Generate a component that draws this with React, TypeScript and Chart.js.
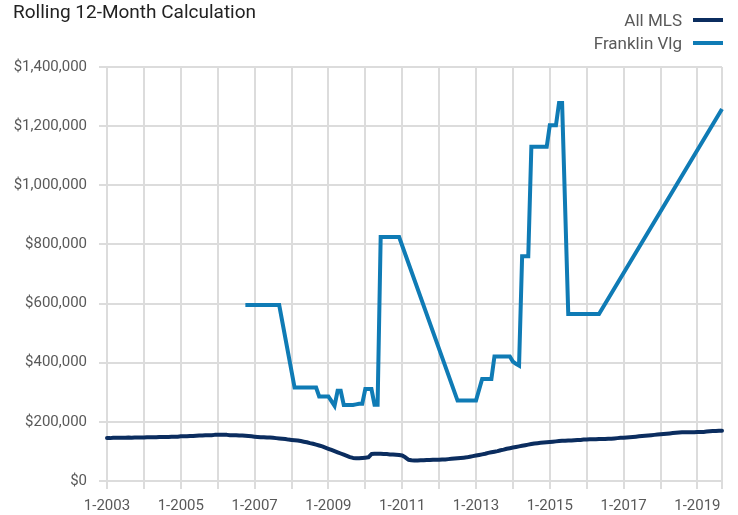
import React, { useEffect, useRef } from 'react';
import { Chart, registerables } from 'chart.js';

Chart.register(...registerables);

// Monthly categories: Jan 2003 .. Sep 2019
const START_YEAR = 2003;
const MONTH_COUNT = 201;
const monthLabels: string[] = [];
for (let i = 0; i < MONTH_COUNT; i++) {
  monthLabels.push(`${(i % 12) + 1}-${START_YEAR + Math.floor(i / 12)}`);
}

// Values in thousands of dollars
const allMlsK: number[] = [
  145, 145, 146, 146, 146, 146, 146, 147, 146, 147, 147, 147, // 2003
  147, 148, 148, 148, 148, 149, 149, 149, 149, 150, 150, 150, // 2004
  151, 151, 151, 152, 152, 153, 154, 154, 155, 155, 155, 156, // 2005
  156, 156, 156, 156, 155, 155, 155, 154, 154, 153, 152, 151, // 2006
  150, 149, 148, 148, 147, 147, 146, 145, 144, 143, 142, 140, // 2007
  139, 138, 137, 135, 133, 131, 128, 126, 123, 120, 117, 113, // 2008
  109, 105, 101, 97, 93, 89, 85, 81, 78, 77, 77, 78, // 2009
  79, 80, 91, 92, 92, 92, 91, 91, 90, 90, 89, 88, // 2010
  86, 80, 72, 70, 69, 69, 70, 70, 71, 71, 72, 72, // 2011
  72, 73, 73, 74, 75, 76, 77, 78, 79, 80, 82, 84, // 2012
  86, 88, 90, 92, 95, 97, 99, 101, 104, 106, 109, 111, // 2013
  113, 115, 117, 119, 121, 123, 125, 127, 128, 129, 130, 131, // 2014
  132, 133, 134, 135, 136, 136, 137, 137, 138, 139, 139, 140, // 2015
  140, 141, 141, 141, 142, 142, 142, 143, 143, 144, 145, 146, // 2016
  146, 147, 148, 149, 150, 151, 152, 153, 154, 155, 156, 157, // 2017
  158, 159, 160, 161, 162, 163, 164, 165, 165, 165, 165, 165, // 2018
  166, 166, 166, 167, 168, 169, 169, 170, 170, // 2019 (Jan-Sep)
];

const _ = null;
const franklinK: (number | null)[] = [
  _, _, _, _, _, _, _, _, _, _, _, _, // 2003
  _, _, _, _, _, _, _, _, _, _, _, _, // 2004
  _, _, _, _, _, _, _, _, _, _, _, _, // 2005
  _, _, _, _, _, _, _, _, _, 595, 595, 595, // 2006
  595, 595, 595, 595, 595, 595, 595, 595, 595, _, _, _, // 2007
  _, 316, 316, 316, 316, 316, 316, 316, 316, 286, 286, 286, // 2008
  286, 270, 254, 305, 305, 257, 257, 257, 257, 259, 261, 261, // 2009
  311, 311, 311, 258, 258, 825, 825, 825, 825, 825, 825, 825, // 2010
  _, _, _, _, _, _, _, _, _, _, _, _, // 2011
  _, _, _, _, _, _, 272, 272, 272, 272, 272, 272, // 2012
  272, _, 345, 345, 345, 345, 421, 421, 421, 421, 421, 421, // 2013
  404, 396, 390, 760, 760, 760, 1130, 1130, 1130, 1130, 1130, 1130, // 2014
  1203, 1203, 1203, 1278, 1278, _, 565, 565, 565, 565, 565, 565, // 2015
  565, 565, 565, 565, 565, _, _, _, _, _, _, _, // 2016
  _, _, _, _, _, _, _, _, _, _, _, _, // 2017
  _, _, _, _, _, _, _, _, _, _, _, _, // 2018
  _, _, _, _, _, _, _, _, 1258, // 2019 (Jan-Sep)
];

const yTicks = [0, 200000, 400000, 600000, 800000, 1000000, 1200000, 1400000];

const seriesNames = ['All MLS', 'Franklin Vlg'];
const seriesColors = ['#0b2d5f', '#0f7bb5'];

const FONT = 'Roboto, "Liberation Sans", Arial, sans-serif';
const GRID = '#dcdcdc';

export default function App() {
  const canvasRef = useRef<HTMLCanvasElement | null>(null);

  useEffect(() => {
    const canvas = canvasRef.current;
    if (!canvas) return;
    const last = monthLabels.length - 1;
    const chart = new Chart(canvas, {
      type: 'line',
      data: {
        labels: monthLabels,
        datasets: [
          {
            label: seriesNames[0],
            data: allMlsK.map((v) => v * 1000),
            borderColor: seriesColors[0],
            backgroundColor: seriesColors[0],
            borderWidth: 4,
            pointRadius: 0,
            tension: 0,
            borderJoinStyle: 'round',
            borderCapStyle: 'round',
          },
          {
            label: seriesNames[1],
            data: franklinK.map((v) => (v === null ? null : v * 1000)),
            borderColor: seriesColors[1],
            backgroundColor: seriesColors[1],
            borderWidth: 4,
            pointRadius: 0,
            tension: 0,
            spanGaps: true,
            borderJoinStyle: 'miter',
            borderCapStyle: 'butt',
          },
        ],
      },
      options: {
        responsive: false,
        animation: false,
        events: [],
        layout: { padding: { top: 67, right: 16, left: 0, bottom: 0 } },
        plugins: {
          legend: { display: false },
          tooltip: { enabled: false },
          title: { display: false },
        },
        scales: {
          x: {
            type: 'category',
            offset: false,
            grid: {
              color: (ctx: any) => (ctx.index % 12 === 0 || ctx.index === last ? GRID : 'rgba(0,0,0,0)'),
              lineWidth: 2,
              tickLength: 8,
              drawTicks: true,
            },
            border: { display: true, color: GRID, width: 2 },
            ticks: {
              autoSkip: false,
              maxRotation: 0,
              minRotation: 0,
              padding: 8,
              color: '#595959',
              font: { family: FONT, size: 15 },
              callback: (_v: any, index: number) => (index % 24 === 0 ? monthLabels[index] : ''),
            },
            afterFit: (scale: any) => {
              scale.height = 34;
            },
          },
          y: {
            min: 0,
            max: 1400000,
            afterBuildTicks: (scale: any) => {
              scale.ticks = yTicks.map((v) => ({ value: v }));
            },
            grid: { color: GRID, lineWidth: 2, tickLength: 8 },
            border: { display: true, color: GRID, width: 2 },
            ticks: {
              padding: 12,
              color: '#595959',
              font: { family: FONT, size: 15 },
              callback: (v: any) => '$' + Number(v).toLocaleString('en-US'),
            },
            afterFit: (scale: any) => {
              scale.width = 107;
            },
          },
        },
      },
    });
    return () => chart.destroy();
  }, []);

  return (
    <div style={{ position: 'fixed', left: 0, top: 0, width: 738, height: 515, background: '#fff', fontFamily: FONT }}>
      <canvas ref={canvasRef} width={738} height={515} style={{ position: 'absolute', left: 0, top: 0, width: 738, height: 515 }} />
      <div style={{ position: 'absolute', left: 13, top: -1, fontSize: 19, lineHeight: '25px', color: '#222', whiteSpace: 'nowrap' }}>
        Rolling 12-Month Calculation
      </div>
      <div style={{ position: 'absolute', right: 15, top: 8, display: 'flex', flexDirection: 'column', alignItems: 'flex-end' }}>
        {seriesNames.map((name, i) => (
          <div key={name} style={{ display: 'flex', alignItems: 'center', height: 23 }}>
            <span style={{ fontSize: 17, color: '#595959', whiteSpace: 'nowrap' }}>{name}</span>
            <span style={{ display: 'inline-block', width: 30, height: 4, marginLeft: 11, background: seriesColors[i] }} />
          </div>
        ))}
      </div>
    </div>
  );
}
